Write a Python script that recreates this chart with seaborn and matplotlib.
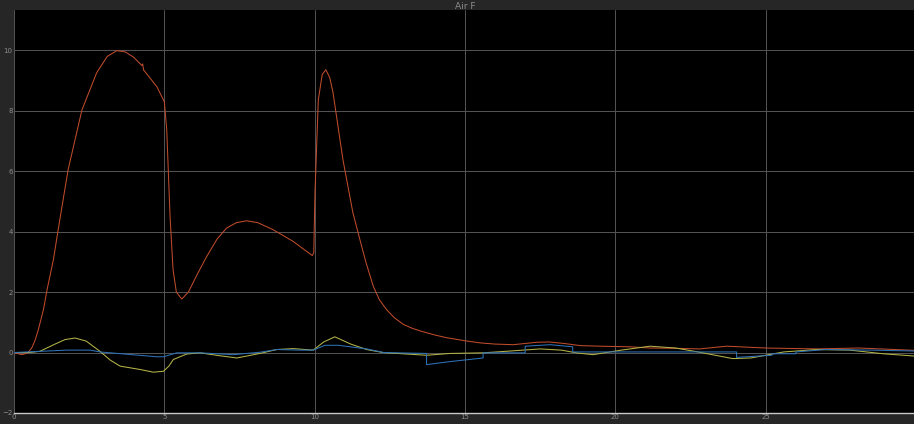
import pandas as pd
import seaborn as sns
import matplotlib.pyplot as plt

# signal 1 (red)
t_red = [0, 0.26, 0.45, 0.59, 0.7, 0.81, 0.98, 1.09, 1.31, 1.47, 1.8, 2.26, 2.75, 3.1, 3.42,
         3.7, 3.97, 4.25, 4.28, 4.31, 4.36, 4.75, 5.0, 5.08, 5.19, 5.29, 5.4, 5.58, 5.8, 6.1,
         6.41, 6.75, 7.07, 7.4, 7.74, 8.1, 8.61, 9.28, 9.92, 9.97, 10.01, 10.12, 10.25, 10.37,
         10.5, 10.61, 10.94, 11.27, 11.5, 11.7, 11.95, 12.15, 12.39, 12.65, 12.95, 13.25,
         13.56, 14.0, 14.39, 15.0, 15.5, 16.0, 16.6, 17.0, 17.38, 17.8, 18.3, 18.82, 19.5,
         20.48, 21.15, 22.0, 22.8, 23.7, 25.0, 26.7, 28.1, 30]
v_red = [0, -0.07, -0.02, 0.15, 0.4, 0.76, 1.42, 2.03, 3.07, 4.07, 6.05, 8.03, 9.26, 9.8, 9.99,
         9.95, 9.78, 9.5, 9.55, 9.35, 9.29, 8.8, 8.3, 7.37, 4.5, 2.74, 2.0, 1.77, 2.0, 2.6,
         3.18, 3.75, 4.12, 4.3, 4.36, 4.3, 4.07, 3.68, 3.21, 3.3, 5.3, 8.36, 9.2, 9.36,
         9.1, 8.6, 6.38, 4.63, 3.75, 3.0, 2.19, 1.75, 1.42, 1.15, 0.93, 0.8,
         0.70, 0.58, 0.49, 0.39, 0.32, 0.28, 0.26, 0.3, 0.34, 0.35, 0.3, 0.23, 0.21,
         0.19, 0.15, 0.14, 0.12, 0.21, 0.15, 0.12, 0.15, 0.07]

# signal 2 (yellow)
t_yel = [0, 0.5, 0.86, 1.3, 1.7, 2.03, 2.4, 2.86, 3.2, 3.53, 4.19, 4.63, 4.97, 5.15, 5.3,
         5.74, 6.19, 6.8, 7.41, 8.18, 8.74, 9.29, 9.95, 10.3, 10.67, 11.2, 11.73, 12.27,
         13.72, 14.5, 15.6, 16.5, 17.5, 18.2, 18.7, 19.25, 20.2, 21.15, 22.0, 22.8, 23.9,
         24.5, 25.6, 26.7, 27.8, 28.9, 30]
v_yel = [0, 0.0, 0.04, 0.25, 0.43, 0.48, 0.38, 0.04, -0.25, -0.45, -0.56, -0.65, -0.62, -0.45,
         -0.23, -0.05, -0.01, -0.1, -0.18, -0.03, 0.1, 0.13, 0.08, 0.35, 0.52, 0.28, 0.1, 0.0,
         -0.09, -0.03, -0.01, 0.05, 0.12, 0.08, -0.01, -0.07, 0.08, 0.21, 0.15, 0.01, -0.2,
         -0.18, 0.02, 0.1, 0.08, -0.04, -0.12]

# signal 3 (blue)
t_blu = [0, 1.75, 2.53, 2.86, 3.8, 4.75, 4.97, 5.41, 6.2, 7.29, 8.18, 8.74, 9.51, 9.95,
         10.34, 10.79, 11.73, 12.3, 13.72, 13.72, 14.5, 15.6, 15.6, 17.0, 17.0, 17.83, 18.58,
         18.58, 24.03, 24.03, 25.2, 25.2, 26.0, 26.0, 27.0, 28.5, 30]
v_blu = [0, 0.08, 0.08, 0.02, -0.06, -0.14, -0.14, -0.01, -0.01, -0.07, 0.01, 0.1, 0.08, 0.08,
         0.24, 0.24, 0.12, 0.0, -0.03, -0.4, -0.3, -0.18, -0.01, -0.01, 0.21, 0.26, 0.19,
         0.02, 0.02, -0.16, -0.09, -0.04, -0.04, 0.02, 0.1, 0.08, 0.05]

x_ticks = [0, 5, 10, 15, 20, 25]
y_ticks = [-2, 0, 2, 4, 6, 8, 10]

sns.set_style("dark")
plt.rcParams['font.family'] = ['DejaVu Sans']

fig = plt.figure(figsize=(9.14, 4.24), dpi=100, facecolor="#262626")
ax = fig.add_axes([0.0153, 0.026, 0.987, 0.95])
ax.set_facecolor("black")

sns.lineplot(x=t_red, y=v_red, ax=ax, color="#c04c2c", lw=0.75, estimator=None, sort=False)
sns.lineplot(x=t_yel, y=v_yel, ax=ax, color="#b4b448", lw=0.75, estimator=None, sort=False)
sns.lineplot(x=t_blu, y=v_blu, ax=ax, color="#2d72b8", lw=0.75, estimator=None, sort=False)

ax.set_xlim(0, 30)
ax.set_ylim(-2, 11.33)
ax.set_xticks(x_ticks)
ax.set_yticks(y_ticks)
ax.grid(True, color="#555555", lw=0.7)
ax.tick_params(colors="#8c8c8c", labelsize=5, length=3, width=0.6, pad=1, direction="in")
for s in ["top", "right", "left"]:
    ax.spines[s].set_visible(False)
ax.spines["bottom"].set_color("#c8c8c8")
ax.spines["bottom"].set_linewidth(1.0)
ax.set_xlabel("")
ax.set_ylabel("")
ax.set_title("Air F", color="#8c8c8c", fontsize=6.5, pad=1)

fig.savefig("out.png", dpi=100, facecolor=fig.get_facecolor())
